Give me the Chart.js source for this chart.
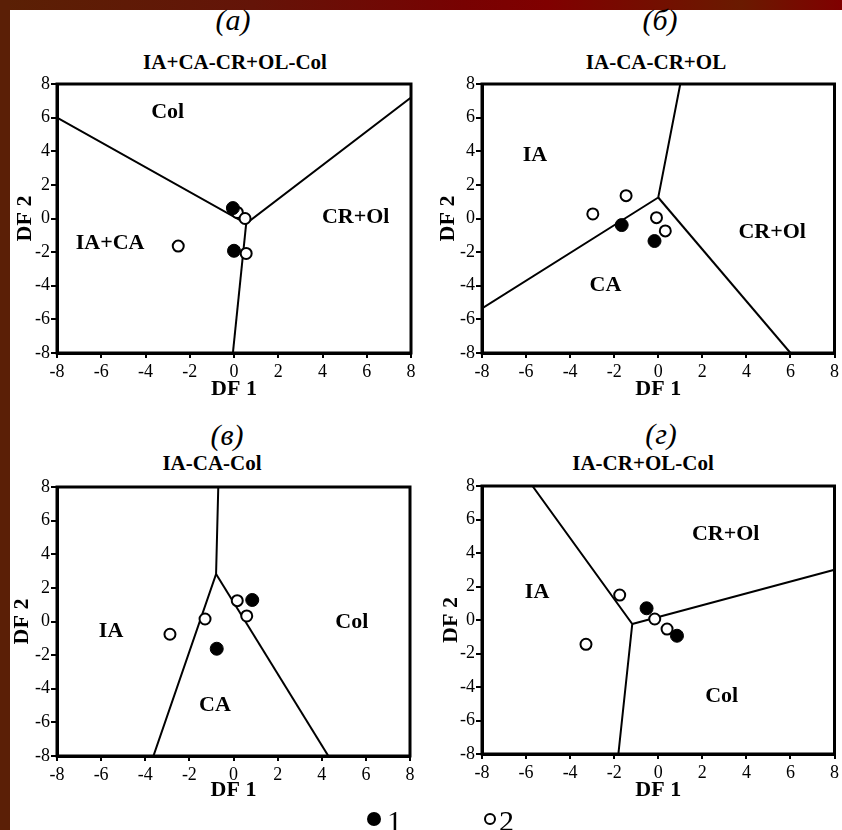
<!DOCTYPE html>
<html>
<head>
<meta charset="utf-8">
<script src="https://cdn.jsdelivr.net/npm/chart.js@4.4.0/dist/chart.umd.min.js"></script>
<style>
  body { margin:0; width:842px; height:830px; background:#fff; position:relative; overflow:hidden; font-family:'Liberation Serif', 'Times New Roman', serif; }
  #topbar { position:absolute; left:0; top:0; width:842px; height:10px;
    background:linear-gradient(to right, #5a2004 0%, #641408 30%, #780202 55%, #800000 65%, #6a1a00 88%, #800000 100%); }
  #leftbar { position:absolute; left:0; top:0; width:10px; height:830px; background:#5b1f06; }
  canvas { position:absolute; }
  .lbl { position:absolute; transform:translate(-50%,-50%); white-space:nowrap; line-height:1; color:#000; }
  .letter { font-style:italic; font-size:30px; }
  .ttl { font-weight:bold; font-size:21px; }
  .num { position:absolute; font-size:30px; line-height:1; }
  .dot { position:absolute; border-radius:50%; box-sizing:border-box; }
</style>
</head>
<body>
<div id="topbar"></div>
<div id="leftbar"></div>

<div class="lbl letter" style="left:233px;top:20px">(а)</div>
<div class="lbl ttl" style="left:235px;top:62px">IA+CA-CR+OL-Col</div>
<div class="lbl letter" style="left:660px;top:20px">(б)</div>
<div class="lbl ttl" style="left:656px;top:62px">IA-CA-CR+OL</div>
<div class="lbl letter" style="left:227px;top:435px">(в)</div>
<div class="lbl ttl" style="left:212px;top:463px">IA-CA-Col</div>
<div class="lbl letter" style="left:661px;top:434px">(г)</div>
<div class="lbl ttl" style="left:643px;top:463px">IA-CR+OL-Col</div>

<canvas id="chartA"></canvas>
<canvas id="chartB"></canvas>
<canvas id="chartC"></canvas>
<canvas id="chartD"></canvas>

<div class="dot" style="left:367px;top:812px;width:14px;height:14px;background:#000"></div>
<span class="num" style="left:387px;top:806px">1</span>
<div class="dot" style="left:484px;top:813px;width:12px;height:12px;border:2px solid #000;background:#fff"></div>
<span class="num" style="left:499px;top:806px">2</span>

<script>
Chart.defaults.font.family = "'Liberation Serif', 'Times New Roman', serif";
Chart.defaults.color = '#000';

const tickValues = [-8, -6, -4, -2, 0, 2, 4, 6, 8];

// (а) IA+CA-CR+OL-Col
const aLine1 = [{x:-8, y:6.0}, {x:0.55, y:-0.3}, {x:8, y:7.2}];
const aLine2 = [{x:0.55, y:-0.3}, {x:-0.05, y:-8}];
const aGroup1 = [{x:-0.05, y:0.62}, {x:0.0, y:-1.92}];
const aGroup2 = [{x:0.15, y:0.36}, {x:0.5, y:0.0}, {x:0.55, y:-2.08}, {x:-2.52, y:-1.64}];
const aRegions = [{text:'Col', x:-3.0, y:6.3}, {text:'CR+Ol', x:5.5, y:0.1}, {text:'IA+CA', x:-5.6, y:-1.45}];

// (б) IA-CA-CR+OL
const bLine1 = [{x:-8, y:-5.35}, {x:0, y:1.25}, {x:1.0, y:8}];
const bLine2 = [{x:0, y:1.25}, {x:6.0, y:-8}];
const bGroup1 = [{x:-1.66, y:-0.39}, {x:-0.17, y:-1.34}];
const bGroup2 = [{x:-2.97, y:0.27}, {x:-1.46, y:1.36}, {x:-0.08, y:0.05}, {x:0.32, y:-0.74}];
const bRegions = [{text:'IA', x:-5.6, y:3.74}, {text:'CR+Ol', x:5.17, y:-0.82}, {text:'CA', x:-2.4, y:-4.0}];

// (в) IA-CA-Col
const cLine1 = [{x:-0.69, y:8}, {x:-0.79, y:2.82}, {x:-3.63, y:-8}];
const cLine2 = [{x:-0.79, y:2.82}, {x:4.3, y:-8}];
const cGroup1 = [{x:0.85, y:1.28}, {x:-0.76, y:-1.62}];
const cGroup2 = [{x:0.17, y:1.24}, {x:0.6, y:0.33}, {x:-1.29, y:0.15}, {x:-2.88, y:-0.76}];
const cRegions = [{text:'IA', x:-5.55, y:-0.6}, {text:'Col', x:5.36, y:-0.07}, {text:'CA', x:-0.84, y:-4.97}];

// (г) IA-CR+OL-Col
const dLine1 = [{x:-5.71, y:8}, {x:-1.18, y:-0.24}, {x:-1.81, y:-8}];
const dLine2 = [{x:-1.18, y:-0.24}, {x:8, y:3.0}];
const dGroup1 = [{x:-0.53, y:0.7}, {x:0.85, y:-0.94}];
const dGroup2 = [{x:-1.75, y:1.49}, {x:-0.16, y:0.06}, {x:0.4, y:-0.54}, {x:-3.28, y:-1.45}];
const dRegions = [{text:'IA', x:-5.5, y:1.63}, {text:'CR+Ol', x:3.06, y:5.13}, {text:'Col', x:2.88, y:-4.54}];

// canvas box and plot area, page pixels
const panels = [
  {id:'chartA', lines:[aLine1, aLine2], g1:aGroup1, g2:aGroup2, regions:aRegions,
   box:{left:8, top:70, width:417, height:337}, area:{l:57, t:84, r:411, b:353}},
  {id:'chartB', lines:[bLine1, bLine2], g1:bGroup1, g2:bGroup2, regions:bRegions,
   box:{left:431, top:70, width:411, height:337}, area:{l:482, t:84, r:836, b:353}},
  {id:'chartC', lines:[cLine1, cLine2], g1:cGroup1, g2:cGroup2, regions:cRegions,
   box:{left:5, top:470, width:420, height:338}, area:{l:57, t:487, r:410, b:756}},
  {id:'chartD', lines:[dLine1, dLine2], g1:dGroup1, g2:dGroup2, regions:dRegions,
   box:{left:434, top:470, width:408, height:338}, area:{l:482, t:486, r:837, b:754}}
];

const regionLabels = {
  id: 'regionLabels',
  afterDatasetsDraw(chart, args, opts) {
    const {ctx, scales: {x, y}} = chart;
    ctx.save();
    ctx.font = "bold 22px 'Liberation Serif'";
    ctx.fillStyle = '#000';
    ctx.textAlign = 'center';
    ctx.textBaseline = 'middle';
    opts.items.forEach(r => ctx.fillText(r.text, x.getPixelForValue(r.x), y.getPixelForValue(r.y)));
    ctx.restore();
  }
};

const frame = {
  id: 'frame',
  afterDatasetsDraw(chart) {
    const {ctx, chartArea: a} = chart;
    ctx.save();
    ctx.strokeStyle = '#000';
    ctx.lineWidth = 3;
    ctx.strokeRect(a.left, a.top, a.right - a.left, a.bottom - a.top);
    ctx.restore();
  }
};

function makeChart(p) {
  const cv = document.getElementById(p.id);
  cv.width = p.box.width;
  cv.height = p.box.height;
  cv.style.left = p.box.left + 'px';
  cv.style.top = p.box.top + 'px';

  const datasets = [
    {label:'1', data:p.g1, pointRadius:6.5, backgroundColor:'#000', borderColor:'#000', borderWidth:1},
    {label:'2', data:p.g2, pointRadius:5.5, backgroundColor:'#fff', borderColor:'#000', borderWidth:2}
  ];
  p.lines.forEach(l => datasets.push({
    data:l, showLine:true, pointRadius:0, borderColor:'#000', borderWidth:2, fill:false, tension:0
  }));

  new Chart(cv, {
    type: 'scatter',
    data: {datasets: datasets},
    options: {
      responsive: false,
      animation: false,
      layout: {padding: {left:0, bottom:0, top:p.area.t - p.box.top, right:p.box.left + p.box.width - p.area.r}},
      plugins: {
        legend: {display:false},
        tooltip: {enabled:false},
        regionLabels: {items: p.regions}
      },
      scales: {
        x: {
          type:'linear', position:'bottom', min:-8, max:8,
          afterBuildTicks: s => { s.ticks = tickValues.map(v => ({value:v})); },
          ticks: {font:{size:18}, color:'#000', padding:3, maxRotation:0, autoSkip:false},
          grid: {drawOnChartArea:false, drawTicks:true, tickLength:5, color:'#000', lineWidth:2},
          border: {display:true, color:'#000', width:3},
          title: {display:true, text:'DF 1', color:'#000', font:{size:22, weight:'bold'}, padding:{top:2, bottom:4}},
          afterFit: s => { s.height = p.box.top + p.box.height - p.area.b; }
        },
        y: {
          type:'linear', position:'left', min:-8, max:8,
          afterBuildTicks: s => { s.ticks = tickValues.map(v => ({value:v})); },
          ticks: {font:{size:18}, color:'#000', padding:1, autoSkip:false},
          grid: {drawOnChartArea:false, drawTicks:true, tickLength:6, color:'#000', lineWidth:2},
          border: {display:true, color:'#000', width:3},
          title: {display:true, text:'DF 2', color:'#000', font:{size:22, weight:'bold'}, padding:{top:4, bottom:4}},
          afterFit: s => { s.width = p.area.l - p.box.left; }
        }
      }
    },
    plugins: [regionLabels, frame]
  });
}

panels.forEach(makeChart);
</script>
</body>
</html>
